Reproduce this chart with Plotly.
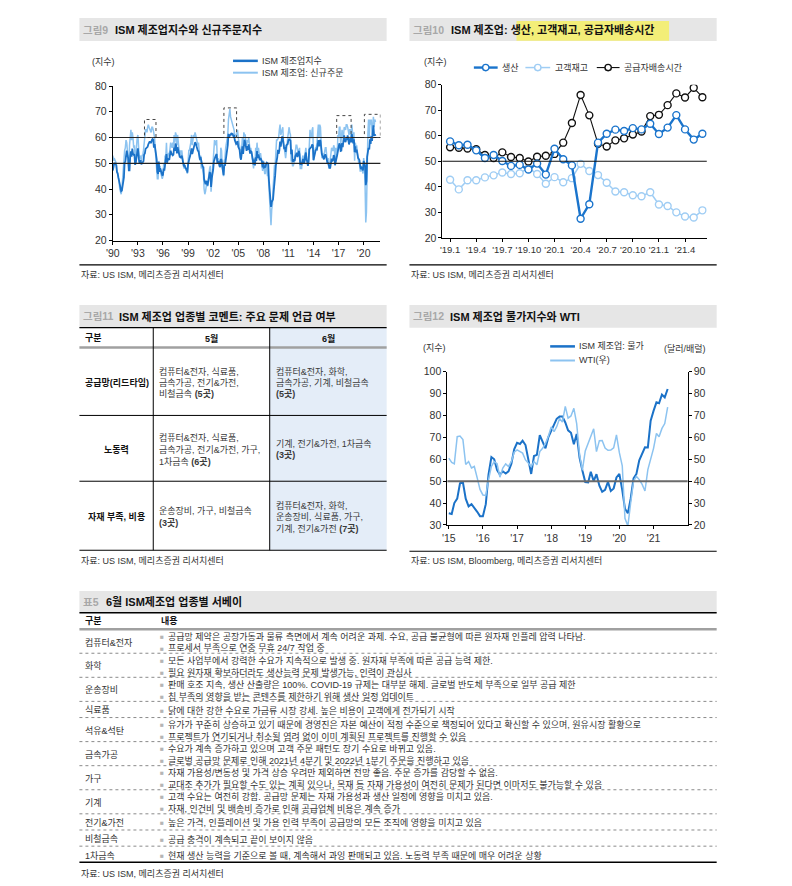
import plotly.graph_objects as go
import pandas as pd

FONT = "Liberation Sans, Noto Sans CJK KR, sans-serif"
OFF = 8  # page body margin
W, H = 792 - OFF, 886 - OFF


def X(p):
    return (p - OFF) / W


def Y(p):
    return 1 - (p - OFF) / H


# ---------------- 그림9 data: ISM 제조업지수 / 신규주문 (monthly, 1990.1 ~ 2021.6) ----------------
ism_pmi = [
    47.2, 49.1, 49.9, 50.0, 49.5, 49.2, 46.6, 46.1, 44.5, 43.2, 41.3, 40.8,
    39.2, 39.4, 40.7, 42.8, 44.5, 50.3, 50.6, 52.9, 54.9, 53.1, 52.1, 47.3,
    47.3, 52.7, 54.6, 52.6, 55.7, 53.7, 53.3, 53.5, 49.4, 50.2, 53.6, 54.2,
    55.8, 53.3, 50.2, 50.7, 51.2, 49.6, 50.2, 50.7, 50.8, 53.4, 53.8, 55.6,
    56.0, 56.5, 56.4, 57.4, 58.2, 58.5, 58.0, 58.0, 59.0, 59.4, 59.2, 56.1,
    57.4, 55.1, 52.1, 51.5, 46.7, 45.9, 50.7, 46.7, 48.1, 46.7, 46.1, 45.4,
    45.5, 47.9, 47.1, 49.9, 50.5, 53.6, 50.2, 51.7, 51.6, 51.3, 53.5, 54.9,
    53.8, 53.1, 53.1, 53.4, 56.1, 54.8, 57.7, 56.8, 53.8, 56.2, 55.2, 53.3,
    52.5, 52.5, 52.0, 53.0, 51.2, 49.1, 48.8, 49.1, 48.5, 47.7, 48.2, 46.4,
    49.5, 51.7, 51.9, 52.8, 54.1, 55.8, 53.6, 54.8, 57.0, 57.2, 58.1, 57.8,
    56.7, 55.8, 54.9, 54.7, 53.2, 51.4, 52.5, 49.9, 49.7, 48.7, 48.5, 43.9,
    42.3, 41.9, 43.1, 42.7, 41.3, 43.2, 43.5, 46.3, 46.2, 40.8, 44.1, 45.3,
    47.5, 50.7, 52.4, 52.4, 53.1, 53.6, 50.2, 50.3, 50.5, 49.0, 48.5, 51.6,
    51.3, 48.8, 46.3, 45.4, 49.4, 49.0, 51.0, 53.2, 53.7, 57.0, 61.4, 60.1,
    60.8, 61.0, 61.5, 61.2, 61.4, 60.6, 60.9, 59.0, 58.5, 57.5, 57.8, 58.6,
    56.4, 55.3, 55.2, 52.3, 51.4, 53.8, 56.6, 53.6, 59.0, 59.1, 58.1, 55.6,
    54.8, 56.7, 55.2, 57.3, 54.4, 53.8, 54.7, 54.5, 52.9, 51.2, 49.5, 51.4,
    49.3, 52.3, 50.9, 54.7, 52.0, 53.4, 52.3, 51.2, 52.0, 50.9, 50.8, 48.4,
    50.7, 48.3, 48.6, 48.6, 49.6, 50.2, 50.0, 49.9, 43.4, 38.9, 36.5, 33.1,
    34.9, 35.5, 36.0, 39.5, 41.7, 45.3, 49.1, 52.4, 52.4, 55.2, 53.7, 54.9,
    58.4, 56.5, 59.6, 60.4, 59.7, 56.2, 55.5, 56.3, 54.4, 56.9, 57.6, 57.5,
    59.0, 59.3, 59.1, 58.8, 53.5, 55.3, 50.9, 50.6, 51.6, 50.8, 52.7, 53.9,
    54.1, 52.4, 53.4, 54.8, 53.5, 49.7, 49.8, 49.6, 51.5, 51.7, 49.9, 50.7,
    53.1, 54.2, 51.3, 50.7, 49.0, 50.9, 55.4, 55.7, 56.2, 56.4, 57.3, 57.0,
    51.3, 53.2, 53.7, 54.9, 55.4, 55.3, 57.1, 59.0, 56.6, 59.0, 58.7, 55.5,
    53.5, 52.9, 51.5, 51.5, 52.8, 53.5, 52.7, 51.1, 50.2, 50.1, 48.6, 48.2,
    48.2, 49.5, 51.8, 50.8, 51.3, 53.2, 52.6, 49.4, 51.5, 51.9, 53.2, 54.7,
    56.0, 57.7, 57.2, 54.8, 54.9, 57.8, 56.3, 58.8, 60.8, 58.7, 58.2, 59.7,
    59.1, 60.8, 59.3, 57.3, 58.7, 60.2, 58.1, 61.3, 59.8, 57.7, 59.3, 54.3,
    56.6, 54.2, 55.3, 52.8, 52.1, 51.7, 51.2, 49.1, 47.8, 48.3, 48.1, 47.2,
    50.9, 50.1, 49.1, 41.5, 43.1, 52.6, 54.2, 56.0, 55.4, 59.3, 57.5, 60.7,
    58.7, 60.8, 64.7, 60.7, 61.2, 60.6,
]
ism_new_orders = [
    53, 51, 52, 51, 50, 50, 47, 46, 45, 43, 40, 39,
    38, 40, 44, 48, 51, 55, 56, 59, 58, 55, 54, 48,
    57, 61, 63, 59, 62, 60, 56, 57, 51, 53, 59, 60,
    61, 57, 52, 53, 52, 51, 53, 53, 55, 58, 59, 63,
    63, 62, 64, 65, 64, 63, 62, 62, 64, 64, 63, 62,
    60, 55, 51, 49, 44, 44, 50, 47, 49, 46, 45, 44,
    45, 50, 48, 53, 52, 58, 51, 54, 54, 53, 56, 58,
    57, 56, 58, 56, 61, 58, 62, 61, 57, 61, 58, 55,
    53, 55, 53, 55, 52, 49, 48, 49, 49, 47, 48, 46,
    53, 55, 55, 56, 58, 61, 57, 59, 61, 60, 62, 61,
    59, 58, 57, 58, 54, 51, 53, 48, 49, 47, 46, 40,
    38, 39, 42, 43, 41, 44, 45, 48, 49, 39, 43, 46,
    51, 55, 59, 57, 57, 59, 51, 52, 51, 49, 49, 56,
    55, 49, 45, 45, 51, 52, 56, 58, 58, 61, 67, 70,
    71, 68, 67, 66, 66, 64, 63, 61, 61, 60, 61, 63,
    60, 58, 57, 54, 53, 56, 60, 55, 62, 61, 61, 58,
    57, 59, 58, 60, 55, 55, 56, 54, 52, 49, 48, 52,
    49, 56, 53, 58, 54, 56, 54, 52, 54, 51, 50, 47,
    51, 47, 46, 46, 50, 49, 45, 46, 40, 33, 28, 26,
    32, 34, 40, 47, 49, 49, 55, 59, 59, 60, 60, 63,
    65, 61, 62, 63, 64, 58, 54, 54, 52, 57, 57, 60,
    64, 64, 62, 61, 51, 51, 49, 49, 50, 53, 56, 57,
    57, 55, 54, 55, 56, 48, 48, 48, 52, 53, 50, 50,
    54, 56, 53, 51, 49, 51, 58, 63, 60, 60, 63, 64,
    51, 55, 55, 56, 56, 58, 63, 65, 60, 65, 64, 57,
    52, 54, 52, 53, 55, 56, 56, 51, 50, 52, 48, 49,
    51, 52, 56, 55, 55, 57, 56, 49, 56, 53, 53, 61,
    60, 64, 64, 57, 59, 63, 60, 60, 64, 63, 63, 65,
    65, 64, 61, 61, 63, 63, 60, 65, 62, 58, 62, 51,
    58, 56, 57, 52, 52, 50, 50, 47, 47, 49, 47, 46,
    52, 49, 42, 27, 31, 56, 61, 67, 60, 67, 65, 67,
    61, 64, 68, 64, 67, 66,
]
fig9_tickvals = ["1990-01-01", "1993-01-01", "1996-01-01", "1999-01-01", "2002-01-01", "2005-01-01",
                 "2008-01-01", "2011-01-01", "2014-01-01", "2017-01-01", "2020-01-01"]
fig9_ticktext = ["'90", "'93", "'96", "'99", "'02", "'05", "'08", "'11", "'14", "'17", "'20"]

# ---------------- 그림10 data ----------------
fig10_months = ["'19.1", "'19.2", "'19.3", "'19.4", "'19.5", "'19.6", "'19.7", "'19.8", "'19.9", "'19.10",
                "'19.11", "'19.12", "'20.1", "'20.2", "'20.3", "'20.4", "'20.5", "'20.6", "'20.7", "'20.8",
                "'20.9", "'20.10", "'20.11", "'20.12", "'21.1", "'21.2", "'21.3", "'21.4", "'21.5", "'21.6"]
production = [57.8, 56.3, 56.5, 54.3, 51.3, 52.5, 50.1, 48.2, 48.6, 46.8,
              49.1, 44.8, 54.9, 50.8, 48.4, 27.5, 33.2, 57.3, 60.8, 62.4,
              61.9, 63.0, 62.5, 64.7, 60.7, 63.2, 68.1, 62.5, 58.5, 60.8]
customer_inventories = [42.8, 39.0, 42.6, 42.6, 43.7, 44.5, 45.6, 45.0, 45.3, 47.4,
                        45.0, 41.2, 43.8, 41.8, 43.4, 49.0, 46.2, 44.6, 41.6, 38.2,
                        37.9, 36.7, 36.3, 37.9, 33.1, 32.5, 30.0, 28.4, 28.0, 30.8]
supplier_deliveries = [55.5, 55.3, 55.0, 54.7, 52.5, 51.3, 53.5, 51.7, 51.3, 49.9,
                       51.8, 52.2, 52.9, 57.3, 65.0, 76.0, 68.0, 56.9, 55.8, 58.2,
                       59.0, 60.5, 61.7, 67.7, 68.2, 72.0, 76.6, 75.0, 78.8, 75.1]
fig10_tickvals = fig10_months[::3]

# ---------------- 그림12 data (monthly, 2015.1 ~ 2021.6) ----------------
ism_prices = [
    35.3, 35.0, 40.0, 42.0, 49.0, 49.5, 42.0, 38.5, 39.5, 38.0, 36.0, 34.0,
    34.0, 39.5, 53.0, 61.0, 60.0, 55.0, 53.0, 54.5, 53.5, 54.5, 58.0, 64.5,
    67.5, 67.0, 68.5, 66.5, 60.5, 53.3, 61.5, 62.0, 71.0, 68.0, 65.0, 70.0,
    73.0, 76.0, 78.5, 79.5, 79.5, 76.8, 73.2, 72.1, 66.9, 71.6, 60.7, 54.9,
    49.6, 49.4, 54.3, 50.0, 53.2, 47.9, 45.1, 46.0, 49.7, 45.5, 46.7, 51.7,
    53.3, 45.9, 37.4, 35.3, 42.0, 51.3, 53.2, 59.5, 62.8, 65.5, 65.4, 77.6,
    82.1, 86.0, 85.6, 89.6, 88.3, 92.1,
]
wti = [
    50.5, 48.6, 47.9, 60.3, 60.6, 59.0, 47.6, 49.0, 46.0, 46.7, 41.5, 36.2,
    33.7, 33.5, 40.7, 46.7, 48.9, 48.0, 41.8, 46.0, 47.9, 46.7, 49.0, 53.2,
    54.3, 53.5, 52.8, 49.7, 48.2, 46.7, 49.0, 47.5, 53.5, 55.0, 57.3, 60.4,
    64.8, 62.6, 64.9, 68.6, 67.0, 74.2, 68.8, 69.8, 73.3, 66.3, 52.0, 45.0,
    53.8, 57.2, 60.1, 63.9, 53.5, 58.5, 58.6, 55.1, 54.1, 54.2, 55.2, 61.1,
    53.0, 47.0, 23.0, 19.5, 30.0, 40.0, 42.2, 40.7, 38.5, 35.5, 45.3, 50.0,
    55.0, 61.8, 60.3, 64.1, 66.3, 73.8,
]
fig12_tickvals = ["2015-01-01", "2016-01-01", "2017-01-01", "2018-01-01", "2019-01-01", "2020-01-01", "2021-01-01"]
fig12_ticktext = ["'15", "'16", "'17", "'18", "'19", "'20", "'21"]

# ---------------- 그림11 table ----------------
fig11_header = ["구분", "5월", "6월"]
fig11_rows = ["공급망(리드타임)", "노동력", "자재 부족, 비용"]
fig11_may = [["컴퓨터&전자, 식료품,", "금속가공, 전기&가전,", "비철금속 <b>(5곳)</b>"],
             ["컴퓨터&전자, 식료품,", "금속가공, 전기&가전, 가구,", "1차금속 <b>(6곳)</b>"],
             ["운송장비, 가구, 비철금속", "<b>(3곳)</b>"]]
fig11_jun = [["컴퓨터&전자, 화학,", "금속가공, 기계, 비철금속", "<b>(5곳)</b>"],
             ["기계, 전기&가전, 1차금속", "<b>(3곳)</b>"],
             ["컴퓨터&전자, 화학,", "운송장비, 식료품, 가구,", "기계, 전기&가전 <b>(7곳)</b>"]]

# ---------------- 표5 table ----------------
table5_categories = ["컴퓨터&전자", "화학", "운송장비", "식료품", "석유&석탄", "금속가공", "가구", "기계",
                     "전기&가전", "비철금속", "1차금속"]
table5_contents = [
    ["공급망 제약은 공장가동과 물류 측면에서 계속 어려운 과제. 수요, 공급 불균형에 따른 원자재 인플레 압력 나타남.",
     "프로세서 부족으로 연중 무휴 24/7 작업 중"],
    ["모든 사업부에서 강력한 수요가 지속적으로 발생 중. 원자재 부족에 따른 공급 능력 제한.",
     "필요 원자재 확보하더라도 생산능력 문제 발생가능, 인력이 관심사"],
    ["판매 호조 지속, 생산 산출량은 100%. COVID-19 규제는 대부분 해제. 글로벌 반도체 부족으로 일부 공급 제한",
     "칩 부족의 영향을 받는 콘텐츠를 제한하기 위해 생산 일정 업데이트"],
    ["닭에 대한 강한 수요로 가금류 시장 강세. 높은 비용이 고객에게 전가되기 시작"],
    ["유가가 꾸준히 상승하고 있기 때문에 경영진은 자본 예산이 적정 수준으로 책정되어 있다고 확신할 수 있으며, 원유시장 활황으로",
     "프로젝트가 연기되거나 취소될 염려 없이 이미 계획된 프로젝트를 진행할 수 있음"],
    ["수요가 계속 증가하고 있으며 고객 주문 패턴도 장기 수요로 바뀌고 있음.",
     "글로벌 공급망 문제로 인해 2021년 4분기 및 2022년 1분기 주문을 진행하고 있음"],
    ["자재 가용성/변동성 및 가격 상승 우려만 제외하면 전망 좋음. 주문 증가를 감당할 수 없음.",
     "교대조 추가가 필요할 수도 있는 계획 있으나, 목재 등 자재 가용성이 여전히 문제가 된다면 이마저도 불가능할 수 있음"],
    ["고객 수요는 여전히 강함. 공급망 문제는 자재 가용성과 생산 일정에 영향을 미치고 있음.",
     "자재, 인건비 및 배송비 증가로 인해 공급업체 비용은 계속 증가"],
    ["높은 가격, 인플레이션 및 가용 인력 부족이 공급망의 모든 조직에 영향을 미치고 있음"],
    ["공급 충격이 계속되고 끝이 보이지 않음"],
    ["현재 생산 능력을 기준으로 볼 때, 계속해서 과잉 판매되고 있음. 노동력 부족 때문에 매우 어려운 상황"],
]

SRC = "자료: US ISM, 메리츠증권 리서치센터"
SRC12 = "자료: US ISM, Bloomberg, 메리츠증권 리서치센터"

DARK = "#1b72c8"
LIGHT = "#8cc3f0"

fig = go.Figure()

# ---- 그림9 traces ----
x9a = pd.date_range("1990-01-01", periods=len(ism_new_orders), freq="MS")
x9b = pd.date_range("1990-01-01", periods=len(ism_pmi), freq="MS")
fig.add_trace(go.Scatter(x=x9a, y=ism_new_orders, mode="lines", line=dict(color=LIGHT, width=1.5),
                         xaxis="x", yaxis="y", name="ISM 제조업: 신규주문"))
fig.add_trace(go.Scatter(x=x9b, y=ism_pmi, mode="lines", line=dict(color=DARK, width=1.8),
                         xaxis="x", yaxis="y", name="ISM 제조업지수"))

# ---- 그림10 traces ----
mk = lambda c: dict(symbol="circle", size=7, color="white", line=dict(color=c, width=1.4))
fig.add_trace(go.Scatter(x=fig10_months, y=customer_inventories, mode="lines+markers",
                         line=dict(color="#9fcdf4", width=1.5), marker=mk("#9fcdf4"),
                         xaxis="x2", yaxis="y2", name="고객재고"))
fig.add_trace(go.Scatter(x=fig10_months, y=supplier_deliveries, mode="lines+markers",
                         line=dict(color="#111111", width=1.1), marker=mk("#111111"),
                         xaxis="x2", yaxis="y2", name="공급자배송시간"))
fig.add_trace(go.Scatter(x=fig10_months, y=production, mode="lines+markers",
                         line=dict(color="#1a74cc", width=2.4), marker=mk("#1a74cc"),
                         xaxis="x2", yaxis="y2", name="생산"))

# ---- 그림12 traces ----
x12a = pd.date_range("2015-01-01", periods=len(wti), freq="MS")
x12b = pd.date_range("2015-01-01", periods=len(ism_prices), freq="MS")
fig.add_trace(go.Scatter(x=x12a, y=wti, mode="lines", line=dict(color=LIGHT, width=1.5),
                         xaxis="x3", yaxis="y4", name="WTI(우)"))
fig.add_trace(go.Scatter(x=x12b, y=ism_prices, mode="lines", line=dict(color=DARK, width=2.0),
                         xaxis="x3", yaxis="y3", name="ISM 제조업: 물가"))

shapes = []
ann = []


def rect(x0, y0, x1, y1, fill, layer="below"):
    shapes.append(dict(type="rect", xref="paper", yref="paper", x0=X(x0), x1=X(x1), y0=Y(y0), y1=Y(y1),
                       fillcolor=fill, line=dict(width=0), layer=layer))


def hline(x0, x1, y, color="black", width=1, dash="solid"):
    shapes.append(dict(type="line", xref="paper", yref="paper", x0=X(x0), x1=X(x1), y0=Y(y), y1=Y(y),
                       line=dict(color=color, width=width, dash=dash)))


def vline(x, y0, y1, color="black", width=1):
    shapes.append(dict(type="line", xref="paper", yref="paper", x0=X(x), x1=X(x), y0=Y(y0), y1=Y(y1),
                       line=dict(color=color, width=width)))


def circ(cx, cy, r, color):
    shapes.append(dict(type="circle", xref="paper", yref="paper", x0=X(cx - r), x1=X(cx + r),
                       y0=Y(cy + r), y1=Y(cy - r), fillcolor="white", line=dict(color=color, width=1.4)))


def txt(x, y, s, size=9, color="#333", bold=False, anchor="left"):
    ann.append(dict(xref="paper", yref="paper", x=X(x), y=Y(y), text=("<b>%s</b>" % s) if bold else s,
                    showarrow=False, xanchor=anchor, yanchor="middle",
                    font=dict(size=size, color=color, family=FONT)))


def title(x0, x1, y0, y1, tag, tag_x, main, main_x):
    rect(x0, y0, x1, y1, "#e6e6e6")
    yc = (y0 + y1) / 2
    txt(tag_x, yc, tag, size=10.5, color="#a8a8a8", bold=True)
    txt(main_x, yc, main, size=11, color="#111", bold=True)


# ---------- titles ----------
title(73, 383, 12, 35.5, "그림9", 75, "ISM 제조업지수와 신규주문지수", 107)
rect(514, 15, 668, 35, "#f3ee78", layer="above")
title(406, 716, 12, 35.5, "그림10", 408, "ISM 제조업: 생산, 고객재고, 공급자배송시간", 446)
title(73, 383, 303, 326, "그림11", 75, "ISM 제조업 업종별 코멘트: 주요 문제 언급 여부", 111)
title(406, 716, 303, 326, "그림12", 408, "ISM 제조업 물가지수와 WTI", 445)
title(73, 716, 593, 615, "표5", 75, "6월 ISM제조업 업종별 서베이", 98)

# ---------- sources ----------
hline(73, 383, 262.3, width=1.2)
txt(73, 271.7, SRC, size=9)
hline(406, 716, 262.3, width=1.2)
txt(406, 271.7, SRC, size=9)
txt(73, 561.7, SRC, size=9)
hline(406, 716, 552.7, width=1.2)
txt(406, 561.7, SRC12, size=9)
txt(73, 879.5, SRC, size=9)

# ---------- 그림9 extras ----------
txt(97.5, 56.7, "(지수)", anchor="center")
hline(228, 253, 55.5, color=DARK, width=2.5)
txt(255, 55.5, "ISM 제조업지수")
hline(228, 253, 67.5, color=LIGHT, width=2)
txt(255, 67.5, "ISM 제조업: 신규주문")
for yv in (60, 50):
    shapes.append(dict(type="line", xref="x domain", yref="y", x0=0, x1=1, y0=yv, y1=yv,
                       line=dict(color="#222", width=1.2)))
for (bx0, bx1, by1) in [("1993-10-15", "1995-03-01", 67), ("2003-04-15", "2004-10-20", 71.5),
                        ("2016-10-10", "2018-07-01", 68.5), ("2020-02-01", "2021-12-31", 69)]:
    shapes.append(dict(type="rect", xref="x", yref="y", x0=bx0, x1=bx1, y0=60, y1=by1,
                       line=dict(color="#444", width=1, dash="dot")))

# ---------- 그림10 extras ----------
txt(432, 57, "(지수)", anchor="center")
shapes.append(dict(type="line", xref="x2 domain", yref="y2", x0=0, x1=1, y0=50, y1=50,
                   line=dict(color="#111", width=1.1)))
hline(471, 495, 62.3, color="#1a74cc", width=2.4)
circ(483, 62.3, 3.2, "#1a74cc")
txt(497, 62.3, "생산")
hline(523, 548, 62.3, color="#9fcdf4", width=1.5)
circ(535.5, 62.3, 3.2, "#9fcdf4")
txt(550.5, 62.3, "고객재고")
hline(595, 618, 62.3, color="#111", width=1.1)
circ(606.5, 62.3, 3.2, "#111")
txt(620.5, 62.3, "공급자배송시간")

# ---------- 그림12 extras ----------
txt(431, 346.7, "(지수)", anchor="center")
txt(684, 346.7, "(달러/배럴)", anchor="center")
hline(548, 573, 345, color=DARK, width=2.5)
txt(575.5, 345, "ISM 제조업: 물가")
hline(548, 573, 359.3, color=LIGHT, width=2)
txt(575.5, 359.3, "WTI(우)")
shapes.append(dict(type="line", xref="x3 domain", yref="y3", x0=0, x1=1, y0=50, y1=50,
                   line=dict(color="#6a6a6a", width=2)))

# ---------- 그림11 table ----------
rect(265, 326, 383, 551.7, "#e4edf8")
hline(73, 383, 326, width=1.3)
hline(73, 383, 346, color="#a0a0a0", width=2.5)
row_bounds = [346, 415, 481.7, 551.7]
hline(73, 383, 415, width=1)
hline(73, 383, 481.7, width=1)
hline(73, 383, 551.7, width=1.2)
vline(147.5, 326, 551.7)
vline(265, 326, 551.7)
txt(77, 336.5, fig11_header[0], size=9, color="#111", bold=True)
txt(206, 336.5, fig11_header[1], size=9, color="#111", bold=True, anchor="center")
txt(324, 336.5, fig11_header[2], size=9, color="#111", bold=True, anchor="center")
for i, lab in enumerate(fig11_rows):
    yc = (row_bounds[i] + row_bounds[i + 1]) / 2 + 1.2
    txt(110.5, yc, lab, size=9, color="#111", bold=True, anchor="center")
    for col_x, lines in ((151.5, fig11_may[i]), (269, fig11_jun[i])):
        n = len(lines)
        for k, s in enumerate(lines):
            txt(col_x, yc + (k - (n - 1) / 2) * 11.7, s, size=9, color="#3a3a3a")

# ---------- 표5 table ----------
hline(73, 716, 615, width=1.5)
txt(77, 623.3, "구분", size=9, color="#111", bold=True)
txt(153, 623.3, "내용", size=9, color="#111", bold=True)
hline(73, 716, 631.7, color="#a0a0a0", width=2.5)
top = 631.7
for i, (cat, lines) in enumerate(zip(table5_categories, table5_contents)):
    h = 24.4 if len(lines) == 2 else 16.4
    yc = top + h / 2 + 1.0
    txt(77, yc, cat, size=9, color="#333")
    n = len(lines)
    for k, s in enumerate(lines):
        yy = yc + (k - (n - 1) / 2) * 12.2
        txt(152, yy, "■", size=6.5, color="#b5b5b5")
        txt(160.5, yy, s, size=9, color="#333")
    top += h
    if i < len(table5_categories) - 1:
        hline(73, 716, top, color="#8a8a8a", width=1, dash="dot")
    else:
        hline(73, 716, top, color="black", width=1.5)

axis_common = dict(showline=True, linecolor="black", linewidth=1, showgrid=False, zeroline=False,
                   ticks="outside", tickcolor="black", ticklen=3, tickangle=0,
                   tickfont=dict(size=10.5, color="#333"))

fig.update_layout(
    width=W, height=H, margin=dict(l=0, r=0, t=0, b=0),
    paper_bgcolor="white", plot_bgcolor="rgba(0,0,0,0)", showlegend=False,
    font=dict(family=FONT, size=10, color="#333"),
    xaxis=dict(domain=[X(106.7), X(376.7)], anchor="y", type="date",
               range=["1990-01-01", "2022-01-01"], tickvals=fig9_tickvals, ticktext=fig9_ticktext,
               **axis_common),
    yaxis=dict(domain=[Y(237.7), Y(81)], anchor="x", range=[20, 80], dtick=10, **axis_common),
    xaxis2=dict(domain=[X(439.3), X(706)], anchor="y2", type="category", range=[-0.88, 29.5],
                tickvals=fig10_tickvals, ticktext=fig10_tickvals, **axis_common),
    yaxis2=dict(domain=[Y(235), Y(79.7)], anchor="x2", range=[20, 80], dtick=10, **axis_common),
    xaxis3=dict(domain=[X(444.3), X(686.7)], anchor="y3", type="date",
                range=["2014-12-17", "2022-01-01"], tickvals=fig12_tickvals, ticktext=fig12_ticktext,
                **axis_common),
    yaxis3=dict(domain=[Y(526), Y(370.7)], anchor="x3", range=[30, 100], dtick=10, **axis_common),
    yaxis4=dict(overlaying="y3", anchor="x3", side="right", range=[20, 90], dtick=10, **axis_common),
    shapes=shapes,
    annotations=ann,
)
fig.layout.xaxis2.tickfont.size = 9.5

fig.write_html("out.html")
